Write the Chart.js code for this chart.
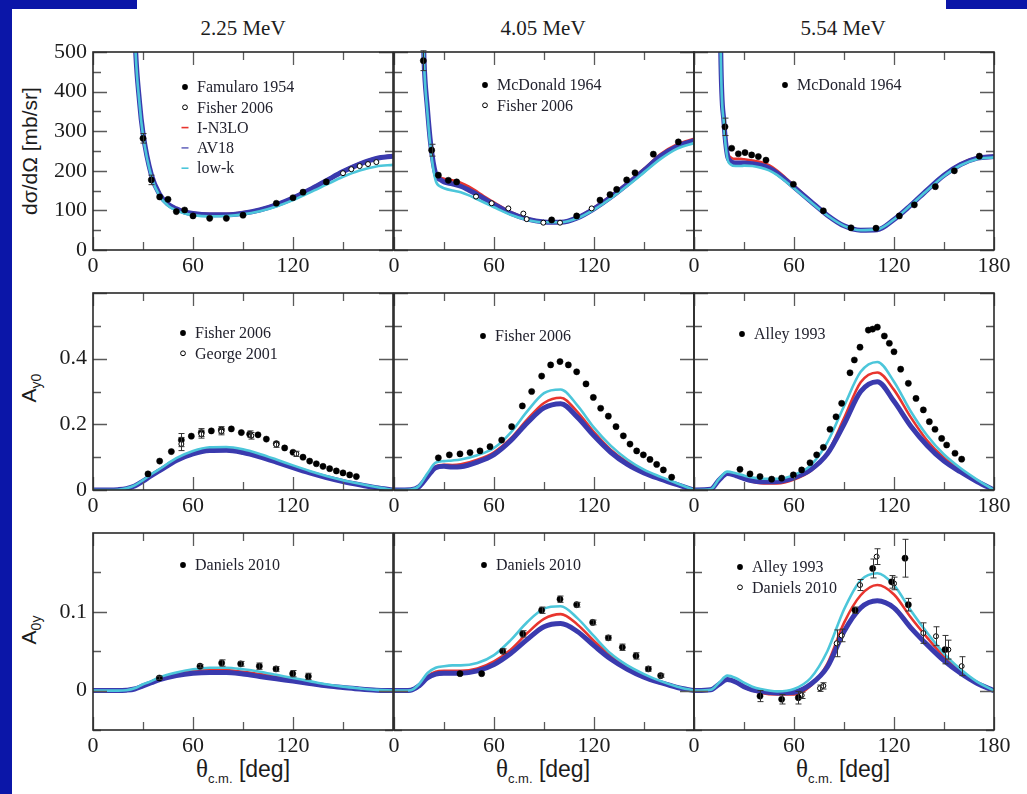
<!DOCTYPE html>
<html>
<head>
<meta charset="utf-8">
<script src="https://cdn.jsdelivr.net/npm/chart.js@4/dist/chart.umd.min.js"></script>
<style>
  body { margin: 0; width: 1027px; height: 794px; background: #fff; position: relative; overflow: hidden; }
  canvas { position: absolute; left: 0; top: 0; pointer-events: none; }
  .blue { position: absolute; background: #0b16a8; }
  .ttl { position: absolute; top: 18px; font: 21px "Liberation Serif", serif; line-height: 1; color: #1c1c1c; transform: translateX(-50%); white-space: nowrap; }
  .xt { position: absolute; top: 756px; font: 23px "Liberation Sans", sans-serif; line-height: 1; color: #1c1c1c; transform: translateX(-50%); white-space: nowrap; }
  .xt .th { font-family: "Liberation Serif", serif; font-size: 25px; }
  .xt sub { font-size: 13px; vertical-align: -6px; }
  .yt { position: absolute; font: 21px "Liberation Sans", sans-serif; line-height: 1; color: #1c1c1c; transform: translate(-50%, -50%) rotate(-90deg); white-space: nowrap; }
  .yt sub { font-size: 14px; vertical-align: -5px; }
</style>
</head>
<body>
<div class="blue" style="left:0;top:0;width:12px;height:794px"></div>
<div class="blue" style="left:0;top:0;width:137px;height:9px"></div>
<div class="blue" style="left:946px;top:0;width:81px;height:9px"></div>

<div class="ttl" style="left:243px">2.25 MeV</div>
<div class="ttl" style="left:543px">4.05 MeV</div>
<div class="ttl" style="left:843px">5.54 MeV</div>

<div class="yt" style="left:29px;top:151px">dσ/dΩ [mb/sr]</div>
<div class="yt" style="left:30px;top:388px">A<sub>y0</sub></div>
<div class="yt" style="left:30px;top:630px">A<sub>0y</sub></div>

<div class="xt" style="left:243px"><span class="th">θ</span><sub>c.m.</sub> [deg]</div>
<div class="xt" style="left:543px"><span class="th">θ</span><sub>c.m.</sub> [deg]</div>
<div class="xt" style="left:843px"><span class="th">θ</span><sub>c.m.</sub> [deg]</div>

<script>
// ---- angle grids (deg) ----
const ANG_XS = [14, 16, 18, 20, 22, 25, 28, 30, 35, 40, 45, 50, 55, 60, 70, 80, 90, 100, 110, 120, 130, 140, 150, 160, 170, 180];
const ANG_POL = [0, 10, 15, 20, 25, 30, 35, 40, 50, 60, 70, 80, 90, 100, 110, 120, 130, 140, 150, 160, 170, 180];

// ---- ticks ----
const X_TICKS = [0, 60, 120, 180];
const X_MINOR = [30, 90, 150];
const X_LABELS_MID = ['0', '60', '120', ''];
const X_LABELS_LAST = ['0', '60', '120', '180'];
const Y_TICKS_XS = [0, 100, 200, 300, 400, 500];
const Y_MINOR_XS = [50, 150, 250, 350, 450];
const Y_LABELS_XS = ['0', '100', '200', '300', '400', '500'];
const Y_TICKS_AY0 = [0, 0.2, 0.4, 0.6];
const Y_MINOR_AY0 = [0.1, 0.3, 0.5];
const Y_LABELS_AY0 = ['0', '0.2', '0.4', ''];
const Y_TICKS_A0Y = [0, 0.1];
const Y_MINOR_A0Y = [-0.05, 0.05, 0.15];
const Y_LABELS_A0Y = ['0', '0.1'];

// ---- dσ/dΩ, 2.25 MeV ----
const XS225_N3LO = [9000, 5000, 3000, 1800, 1100, 562, 372, 297, 192, 142, 118, 106, 98, 94, 91, 91, 95, 103, 116, 133, 154, 177, 200, 219, 233, 239];
const XS225_AV18 = [9000, 5000, 3000, 1800, 1100, 560, 370, 295, 190, 140, 116, 104, 96, 92, 89, 89, 93, 101, 114, 131, 152, 175, 198, 217, 231, 237];
const XS225_LOWK = [9000, 5000, 3000, 1800, 1100, 555, 365, 290, 186, 136, 112, 100, 92, 88, 85, 86, 90, 98, 110, 126, 145, 165, 185, 201, 211, 215];
const FAMULARO_1954 = [[30, 282, 12], [35, 177, 12], [40, 134], [45, 128], [50, 97], [55, 101], [60, 86], [70, 80], [80, 80], [90, 88], [110, 118], [120, 132], [126, 146], [140, 172]];
const FISHER_2006_XS = [[150, 194], [155, 204], [160, 212], [165, 217], [170, 222]];

// ---- dσ/dΩ, 4.05 MeV ----
const XS405_N3LO = [1300, 800, 480, 360, 270, 197, 183, 180, 176, 170, 160, 147, 133, 120, 96, 80, 72, 71, 83, 107, 137, 170, 205, 242, 267, 281];
const XS405_AV18 = [1300, 800, 480, 360, 268, 192, 177, 172, 167, 161, 151, 140, 127, 115, 93, 78, 71, 70, 81, 104, 133, 166, 201, 237, 262, 276];
const XS405_LOWK = [1300, 800, 475, 350, 255, 175, 160, 156, 150, 146, 138, 128, 118, 108, 89, 76, 70, 70, 80, 102, 130, 162, 196, 230, 256, 270];
const MCDONALD_1964_405 = [[17.6, 478, 25], [22.6, 252, 15], [26.6, 189], [32.6, 176], [37.6, 172], [94.6, 76], [109.6, 86], [123.6, 126], [129.6, 140], [133.6, 153], [139.6, 177], [144.6, 195], [155.6, 242], [170.6, 273]];
const FISHER_2006_405 = [[49.2, 135], [58.6, 118], [68.6, 105], [77.6, 92], [79.6, 78], [89.6, 69], [99.6, 69], [118.6, 105]];

// ---- dσ/dΩ, 5.54 MeV ----
const XS554_N3LO = [1500, 520, 330, 250, 234, 230, 230, 229, 226, 222, 214, 200, 182, 163, 125, 89, 62, 50, 51, 77, 114, 153, 190, 218, 234, 238];
const XS554_AV18 = [1500, 515, 322, 240, 224, 220, 220, 220, 218, 214, 207, 194, 177, 159, 123, 88, 61, 50, 51, 77, 113, 152, 189, 216, 232, 236];
const XS554_LOWK = [1500, 510, 315, 232, 216, 212, 212, 213, 212, 208, 201, 189, 173, 156, 121, 87, 61, 50, 52, 77, 113, 151, 187, 214, 230, 234];
const MCDONALD_1964_554 = [[18.6, 311, 22], [22.6, 257], [26.6, 243], [30.6, 246], [34.6, 240], [38.6, 236], [43.2, 227], [59.6, 166], [77.6, 99], [94.2, 56], [109.2, 55], [123.2, 86], [132.2, 114], [144.8, 160], [156.2, 200], [171.2, 237]];

// ---- Ay0 ----
const AY225_N3LO = [0, 0, 0.001, 0.004, 0.013, 0.029, 0.046, 0.062, 0.094, 0.115, 0.125, 0.126, 0.119, 0.105, 0.088, 0.071, 0.054, 0.040, 0.028, 0.017, 0.008, 0];
const AY225_AV18 = [0, 0, 0.001, 0.004, 0.012, 0.027, 0.044, 0.059, 0.090, 0.110, 0.120, 0.121, 0.114, 0.101, 0.085, 0.068, 0.052, 0.038, 0.026, 0.016, 0.007, 0];
const AY225_LOWK = [0, 0, 0.001, 0.005, 0.014, 0.030, 0.048, 0.064, 0.097, 0.119, 0.130, 0.131, 0.124, 0.110, 0.093, 0.075, 0.058, 0.043, 0.030, 0.019, 0.009, 0];
const FISHER_2006_AY225 = [[33, 0.049], [40, 0.088], [47, 0.117], [53, 0.152, 0.02], [59, 0.164], [65, 0.175, 0.012], [71, 0.180], [77, 0.183, 0.01], [83, 0.186], [89, 0.175], [94, 0.170, 0.01], [99, 0.168], [104, 0.155], [110, 0.141], [115, 0.128], [120, 0.115], [126, 0.100], [130, 0.088], [134, 0.080], [138, 0.072], [142, 0.065], [146, 0.058], [150, 0.052], [154, 0.046], [158, 0.041]];
const GEORGE_2001 = [[53, 0.140, 0.02], [65, 0.170, 0.012], [77, 0.178, 0.01], [95, 0.165, 0.01], [110, 0.138, 0.008], [122, 0.110, 0.008]];

const AY405_N3LO = [0, 0.001, 0.010, 0.042, 0.072, 0.077, 0.076, 0.078, 0.092, 0.115, 0.157, 0.215, 0.265, 0.281, 0.238, 0.176, 0.123, 0.085, 0.057, 0.036, 0.018, 0];
const AY405_AV18 = [0, 0.001, 0.010, 0.040, 0.068, 0.072, 0.070, 0.071, 0.085, 0.108, 0.150, 0.205, 0.250, 0.263, 0.222, 0.165, 0.115, 0.078, 0.052, 0.033, 0.016, 0];
const AY405_LOWK = [0, 0.001, 0.012, 0.050, 0.083, 0.088, 0.090, 0.093, 0.106, 0.128, 0.175, 0.240, 0.295, 0.306, 0.258, 0.190, 0.135, 0.093, 0.062, 0.040, 0.020, 0];
const FISHER_2006_AY405 = [[26.6, 0.098], [33.2, 0.107], [39.6, 0.110], [45.6, 0.114], [51.6, 0.119], [57.6, 0.132], [64.6, 0.152], [70.6, 0.193], [77, 0.256], [82.6, 0.300], [88.6, 0.347], [94, 0.381], [99.6, 0.391], [104.6, 0.381], [109.6, 0.360], [115.2, 0.323], [119.6, 0.282], [124, 0.249], [128.6, 0.225], [133.2, 0.193], [137.6, 0.165], [141.6, 0.140], [145.6, 0.119], [149.6, 0.107], [153.6, 0.093], [157.6, 0.078], [161.6, 0.061], [166.6, 0.039]];

const AY554_N3LO = [0, 0.002, 0.030, 0.052, 0.044, 0.033, 0.025, 0.021, 0.020, 0.032, 0.058, 0.112, 0.218, 0.328, 0.358, 0.305, 0.222, 0.150, 0.098, 0.060, 0.028, 0];
const AY554_AV18 = [0, 0.002, 0.030, 0.050, 0.044, 0.035, 0.028, 0.025, 0.026, 0.038, 0.062, 0.110, 0.200, 0.300, 0.330, 0.270, 0.195, 0.135, 0.088, 0.055, 0.025, 0];
const AY554_LOWK = [0, 0.002, 0.033, 0.056, 0.051, 0.044, 0.038, 0.035, 0.034, 0.046, 0.075, 0.145, 0.255, 0.360, 0.390, 0.330, 0.240, 0.165, 0.108, 0.066, 0.031, 0];
const ALLEY_1993_AY = [[27.6, 0.063], [33.6, 0.049], [39.6, 0.041], [46.6, 0.033], [52.6, 0.036], [59.6, 0.046], [64.6, 0.061], [69.6, 0.083], [73.6, 0.107], [77.6, 0.130], [81.6, 0.185], [85.2, 0.223], [88.6, 0.264], [93.6, 0.357], [96.2, 0.396], [99.6, 0.435], [104.6, 0.487], [107.2, 0.490], [110, 0.496], [114.2, 0.469], [117.2, 0.447], [120, 0.421], [124, 0.368], [128.6, 0.325], [133.2, 0.279], [137.6, 0.244], [141.2, 0.208], [144.6, 0.185], [148.6, 0.157], [151.6, 0.137], [156.6, 0.112], [160.6, 0.094]];

// ---- A0y ----
const A0Y225_N3LO = [0, 0, 0, 0.0005, 0.002, 0.007, 0.011, 0.016, 0.022, 0.025, 0.027, 0.026, 0.024, 0.021, 0.018, 0.014, 0.010, 0.007, 0.0045, 0.0025, 0.0007, 0];
const A0Y225_AV18 = [0, 0, 0, 0.0005, 0.002, 0.006, 0.010, 0.014, 0.019, 0.022, 0.023, 0.023, 0.021, 0.018, 0.015, 0.012, 0.009, 0.006, 0.004, 0.002, 0.0005, 0];
const A0Y225_LOWK = [0, 0, 0, 0.0005, 0.003, 0.008, 0.012, 0.017, 0.023, 0.027, 0.029, 0.029, 0.027, 0.024, 0.020, 0.016, 0.012, 0.008, 0.005, 0.0028, 0.0009, 0];
const DANIELS_2010_225 = [[39.8, 0.016, 0.002], [64.2, 0.031, 0.002], [77.2, 0.035, 0.004], [88.6, 0.034, 0.003], [99.8, 0.031, 0.004], [109.8, 0.0275, 0.003], [119.8, 0.0215, 0.004], [129.2, 0.018, 0.004]];

const A0Y405_N3LO = [0, 0.0005, 0.007, 0.018, 0.024, 0.025, 0.025, 0.025, 0.028, 0.037, 0.052, 0.073, 0.091, 0.097, 0.084, 0.063, 0.044, 0.029, 0.019, 0.011, 0.005, 0];
const A0Y405_AV18 = [0, 0.0005, 0.006, 0.016, 0.021, 0.022, 0.022, 0.022, 0.025, 0.033, 0.047, 0.065, 0.081, 0.085, 0.075, 0.057, 0.040, 0.027, 0.017, 0.010, 0.004, 0];
const A0Y405_LOWK = [0, 0.0005, 0.008, 0.022, 0.029, 0.031, 0.032, 0.032, 0.035, 0.045, 0.064, 0.087, 0.104, 0.107, 0.092, 0.069, 0.047, 0.032, 0.021, 0.012, 0.005, 0];
const DANIELS_2010_405 = [[39.6, 0.0215], [52.6, 0.0215], [65.2, 0.050, 0.003], [77.2, 0.072, 0.004], [88.6, 0.102, 0.004], [99.6, 0.116, 0.004], [109.6, 0.109, 0.003], [119.2, 0.0865, 0.003], [128.6, 0.067, 0.003], [137, 0.055, 0.004], [145.2, 0.044, 0.004], [152.6, 0.0275, 0.003], [160, 0.019, 0.002]];

const A0Y554_N3LO = [0, 0.001, 0.008, 0.015, 0.011, 0.004, 0.000, -0.003, -0.005, -0.005, 0.006, 0.034, 0.086, 0.121, 0.134, 0.122, 0.093, 0.067, 0.043, 0.025, 0.010, 0];
const A0Y554_AV18 = [0, 0.001, 0.008, 0.014, 0.011, 0.005, 0.001, -0.001, -0.003, -0.002, 0.008, 0.030, 0.075, 0.105, 0.114, 0.105, 0.080, 0.058, 0.038, 0.022, 0.009, 0];
const A0Y554_LOWK = [0, 0.001, 0.010, 0.019, 0.016, 0.010, 0.005, 0.002, -0.001, 0.002, 0.016, 0.050, 0.103, 0.140, 0.149, 0.134, 0.102, 0.073, 0.047, 0.027, 0.011, 0];
const ALLEY_1993_A0Y = [[39.6, -0.007, 0.007], [52.6, -0.011, 0.006], [62.6, -0.009, 0.008], [96.6, 0.102, 0.004], [107.2, 0.155, 0.012], [118.6, 0.138, 0.008], [126.6, 0.168, 0.024], [128.6, 0.109, 0.008], [150.6, 0.052, 0.018]];
const DANIELS_2010_554 = [[64.6, -0.006, 0.004], [75.6, 0.003, 0.004], [77.6, 0.006, 0.004], [85.6, 0.060, 0.017], [88.6, 0.070, 0.008], [99.6, 0.134, 0.007], [109.6, 0.170, 0.010], [120, 0.136, 0.008], [137.6, 0.073, 0.013], [145.2, 0.069, 0.012], [152.6, 0.052, 0.012], [160.6, 0.031, 0.012]];

// ---- styling ----
const C_N3LO = '#e8352e';
const C_AV18 = '#3a3aae';
const C_LOWK = '#4cc6da';
const SERIF = '"Liberation Serif", "Times New Roman", serif';
const INK = '#1c1c1c';

const COL_LEFT = [93, 394, 694];
const ROWS = [{ top: 52, h: 198 }, { top: 293, h: 197 }, { top: 533, h: 197 }];
const PLOT_W = 300;

// frame with inward ticks on all four sides
const framePlugin = {
    id: 'frame',
    afterDatasetsDraw(chart, args, o) {
        const { ctx, chartArea: a, scales: { x, y } } = chart;
        ctx.save();
        ctx.strokeStyle = '#5a5a5a';
        ctx.lineWidth = 1.3;
        const xt = (vals, len) => vals.forEach(v => {
            const px = Math.round(x.getPixelForValue(v)) + 0.5;
            ctx.beginPath();
            ctx.moveTo(px, a.bottom); ctx.lineTo(px, a.bottom - len);
            ctx.moveTo(px, a.top); ctx.lineTo(px, a.top + len);
            ctx.stroke();
        });
        const yt = (vals, len) => vals.forEach(v => {
            const py = Math.round(y.getPixelForValue(v)) + 0.5;
            ctx.beginPath();
            ctx.moveTo(a.left, py); ctx.lineTo(a.left + len, py);
            ctx.moveTo(a.right, py); ctx.lineTo(a.right - len, py);
            ctx.stroke();
        });
        xt(X_TICKS, 13); xt(X_MINOR, 8);
        yt(o.yMajor, 14); yt(o.yMinor, 8);
        ctx.strokeStyle = '#2a2a2a';
        ctx.lineWidth = 1.6;
        ctx.strokeRect(a.left, a.top, a.right - a.left, a.bottom - a.top);
        ctx.restore();
    }
};

// vertical error bars taken from the third entry of each point
const errPlugin = {
    id: 'errbars',
    afterDatasetsDraw(chart) {
        const { ctx, scales: { x, y } } = chart;
        ctx.save();
        ctx.strokeStyle = '#333';
        ctx.lineWidth = 1;
        chart.data.datasets.forEach(ds => {
            if (!ds.errs) return;
            ds.data.forEach((p, i) => {
                const e = ds.errs[i];
                if (!e) return;
                const px = Math.round(x.getPixelForValue(p.x)) + 0.5;
                const y1 = y.getPixelForValue(p.y + e);
                const y2 = y.getPixelForValue(p.y - e);
                ctx.beginPath();
                ctx.moveTo(px, y1); ctx.lineTo(px, y2);
                ctx.moveTo(px - 3, y1); ctx.lineTo(px + 3, y1);
                ctx.moveTo(px - 3, y2); ctx.lineTo(px + 3, y2);
                ctx.stroke();
            });
        });
        ctx.restore();
    }
};

// in-plot key
const keyPlugin = {
    id: 'key',
    afterDraw(chart, args, o) {
        if (!o.items) return;
        const { ctx, chartArea: a } = chart;
        ctx.save();
        ctx.font = '16px ' + SERIF;
        ctx.textBaseline = 'middle';
        o.items.forEach((it, i) => {
            const mx = a.left + o.x;
            const my = a.top + o.y + i * 20.3;
            if (it.kind === 'line') {
                ctx.strokeStyle = it.color;
                ctx.lineWidth = 1.6;
                ctx.beginPath();
                ctx.moveTo(mx - 3.5, my); ctx.lineTo(mx + 3.5, my);
                ctx.stroke();
            } else {
                ctx.beginPath();
                ctx.arc(mx, my, it.kind === 'open' ? 2.4 : 2.9, 0, Math.PI * 2);
                ctx.fillStyle = it.kind === 'open' ? '#fff' : '#000';
                ctx.fill();
                if (it.kind === 'open') { ctx.strokeStyle = '#000'; ctx.lineWidth = 1; ctx.stroke(); }
            }
            ctx.fillStyle = '#22222e';
            ctx.fillText(it.t, mx + 12, my + 1);
        });
        ctx.restore();
    }
};

function curve(ang, vals, color, width) {
    return {
        data: ang.map((a, i) => ({ x: a, y: vals[i] })),
        showLine: true,
        borderColor: color,
        borderWidth: width,
        pointRadius: 0,
        cubicInterpolationMode: 'monotone',
        clip: 0
    };
}

function dots(pts, open) {
    return {
        data: pts.map(p => ({ x: p[0], y: p[1] })),
        errs: pts.map(p => p[2] || 0),
        showLine: false,
        pointRadius: open ? 2.5 : 3.1,
        pointBackgroundColor: open ? '#fff' : '#000',
        pointBorderColor: '#000',
        pointBorderWidth: open ? 1 : 0.5
    };
}

function panel(col, row, ang, n3lo, av18, lowk, sets, yr, key) {
    const cv = document.createElement('canvas');
    cv.width = 1027; cv.height = 794;
    document.body.appendChild(cv);
    const L = COL_LEFT[col], T = ROWS[row].top, H = ROWS[row].h;
    const yW = col === 0 ? 62 : 0;
    const xH = 34;
    const datasets = sets.map(s => dots(s.pts, s.open));
    datasets.push(curve(ang, lowk, C_LOWK, 2.6));
    datasets.push(curve(ang, av18, C_AV18, 5));
    datasets.push(curve(ang, n3lo, C_N3LO, 2.6));
    const xLabels = col === 2 ? X_LABELS_LAST : X_LABELS_MID;
    new Chart(cv, {
        type: 'scatter',
        data: { datasets },
        plugins: [framePlugin, errPlugin, keyPlugin],
        options: {
            responsive: false,
            animation: false,
            events: [],
            layout: { padding: { left: L - yW, top: T, right: 1027 - (L + PLOT_W), bottom: 794 - (T + H) - xH } },
            scales: {
                x: {
                    type: 'linear', min: 0, max: 180,
                    grid: { display: false, drawTicks: false },
                    border: { display: false },
                    afterBuildTicks: s => { s.ticks = X_TICKS.map(v => ({ value: v })); },
                    afterFit: s => { s.height = xH; },
                    ticks: { autoSkip: false, maxRotation: 0, padding: 3, color: INK, font: { family: SERIF, size: 22 },
                        callback: (v, i) => xLabels[i] }
                },
                y: {
                    type: 'linear', min: yr.min, max: yr.max,
                    grid: { display: false, drawTicks: false },
                    border: { display: false },
                    afterBuildTicks: s => { s.ticks = yr.ticks.map(v => ({ value: v })); },
                    afterFit: s => { s.width = yW; },
                    ticks: { display: col === 0, autoSkip: false, padding: 6, color: INK, font: { family: SERIF, size: 22 },
                        callback: (v, i) => yr.labels[i] }
                }
            },
            plugins: {
                legend: { display: false },
                tooltip: { enabled: false },
                frame: { yMajor: yr.ticks, yMinor: yr.minor },
                key: key
            }
        }
    });
}

const R_XS = { min: 0, max: 500, ticks: Y_TICKS_XS, minor: Y_MINOR_XS, labels: Y_LABELS_XS };
const R_AY0 = { min: 0, max: 0.6, ticks: Y_TICKS_AY0, minor: Y_MINOR_AY0, labels: Y_LABELS_AY0 };
const R_A0Y = { min: -0.05, max: 0.2, ticks: Y_TICKS_A0Y, minor: Y_MINOR_A0Y, labels: Y_LABELS_A0Y };

// row 1: cross sections
panel(0, 0, ANG_XS, XS225_N3LO, XS225_AV18, XS225_LOWK,
    [{ pts: FAMULARO_1954 }, { pts: FISHER_2006_XS, open: true }], R_XS,
    { x: 92, y: 35, items: [
        { t: 'Famularo 1954', kind: 'filled' },
        { t: 'Fisher 2006', kind: 'open' },
        { t: 'I-N3LO', kind: 'line', color: C_N3LO },
        { t: 'AV18', kind: 'line', color: '#6b6bbf' },
        { t: 'low-k', kind: 'line', color: C_LOWK }] });
panel(1, 0, ANG_XS, XS405_N3LO, XS405_AV18, XS405_LOWK,
    [{ pts: MCDONALD_1964_405 }, { pts: FISHER_2006_405, open: true }], R_XS,
    { x: 91, y: 33, items: [{ t: 'McDonald 1964', kind: 'filled' }, { t: 'Fisher 2006', kind: 'open' }] });
panel(2, 0, ANG_XS, XS554_N3LO, XS554_AV18, XS554_LOWK,
    [{ pts: MCDONALD_1964_554 }], R_XS,
    { x: 91, y: 33, items: [{ t: 'McDonald 1964', kind: 'filled' }] });

// row 2: Ay0
panel(0, 1, ANG_POL, AY225_N3LO, AY225_AV18, AY225_LOWK,
    [{ pts: GEORGE_2001, open: true }, { pts: FISHER_2006_AY225 }], R_AY0,
    { x: 90, y: 40, items: [{ t: 'Fisher 2006', kind: 'filled' }, { t: 'George 2001', kind: 'open' }] });
panel(1, 1, ANG_POL, AY405_N3LO, AY405_AV18, AY405_LOWK,
    [{ pts: FISHER_2006_AY405 }], R_AY0,
    { x: 89, y: 43, items: [{ t: 'Fisher 2006', kind: 'filled' }] });
panel(2, 1, ANG_POL, AY554_N3LO, AY554_AV18, AY554_LOWK,
    [{ pts: ALLEY_1993_AY }], R_AY0,
    { x: 48, y: 41, items: [{ t: 'Alley 1993', kind: 'filled' }] });

// row 3: A0y
panel(0, 2, ANG_POL, A0Y225_N3LO, A0Y225_AV18, A0Y225_LOWK,
    [{ pts: DANIELS_2010_225 }], R_A0Y,
    { x: 90, y: 32, items: [{ t: 'Daniels 2010', kind: 'filled' }] });
panel(1, 2, ANG_POL, A0Y405_N3LO, A0Y405_AV18, A0Y405_LOWK,
    [{ pts: DANIELS_2010_405 }], R_A0Y,
    { x: 90, y: 32, items: [{ t: 'Daniels 2010', kind: 'filled' }] });
panel(2, 2, ANG_POL, A0Y554_N3LO, A0Y554_AV18, A0Y554_LOWK,
    [{ pts: ALLEY_1993_A0Y }, { pts: DANIELS_2010_554, open: true }], R_A0Y,
    { x: 46, y: 34, items: [{ t: 'Alley 1993', kind: 'filled' }, { t: 'Daniels 2010', kind: 'open' }] });
</script>
</body>
</html>
